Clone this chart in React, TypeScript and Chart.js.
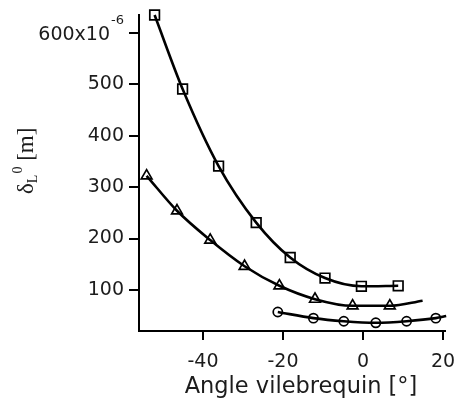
import React, { useEffect, useRef } from 'react';
import { Chart, registerables } from 'chart.js';

Chart.register(...registerables);

// Data (delta in units of 1e-6 m, angle in degrees)
const squareAngle = [-52.1, -45.1, -36.1, -26.7, -18.2, -9.5, -0.4, 8.8];
const squareDelta = [635, 491, 341, 231, 163, 123, 107, 108];

const triangleAngle = [-54.1, -46.5, -38.2, -29.6, -20.9, -12.0, -2.6, 6.7];
const triangleDelta = [322, 254, 197, 146, 108, 82, 69, 69];
const triangleFitEndAngle = [14.9];
const triangleFitEndDelta = [79];

const circleAngle = [-21.3, -12.4, -4.8, 3.2, 10.9, 18.2];
const circleDelta = [57, 45, 39, 36, 39, 45];
const circleFitEndAngle = [20.8];
const circleFitEndDelta = [49];

const xTicks = [-40, -20, 0, 20];
const yTicks = [100, 200, 300, 400, 500, 600];
const yExponent = '-6';
const xTitle = 'Angle vilebrequin [°]';
const yTitleSymbol = 'δ';
const yTitleSub = 'L';
const ySup = '0';
const yTitleUnit = ' [m]';

const toPts = (xs: number[], ys: number[]) => xs.map((x, i) => ({ x, y: ys[i] }));

const TEXT = '#1c1c1c';
const TICK_LEN_Y = 10;
const TICK_PAD_Y = 5;

const labelsPlugin = {
  id: 'customLabels',
  afterDraw(chart: any) {
    const ctx = chart.ctx as CanvasRenderingContext2D;
    const { left, bottom } = chart.chartArea;
    const ys = chart.scales.y;
    ctx.save();
    ctx.fillStyle = TEXT;

    // x title
    ctx.font = '22.5px "DejaVu Sans"';
    ctx.textAlign = 'center';
    ctx.textBaseline = 'alphabetic';
    ctx.fillText(xTitle, left + 162, bottom + 62);

    // top y tick label with exponent
    const topVal = yTicks[yTicks.length - 1];
    const py = ys.getPixelForValue(topVal);
    const rightEdge = left - TICK_LEN_Y - TICK_PAD_Y;
    ctx.textAlign = 'right';
    ctx.font = '13px "DejaVu Sans"';
    const expW = ctx.measureText(yExponent).width;
    ctx.fillText(yExponent, rightEdge, py - 9);
    ctx.font = '19px "DejaVu Sans"';
    ctx.fillText(String(topVal) + 'x10', rightEdge - expW - 1, py + 7);

    // y title (rotated)
    ctx.translate(33, 194);
    ctx.rotate(-Math.PI / 2);
    ctx.textAlign = 'left';
    let x = 0;
    ctx.font = '23px "Liberation Serif"';
    ctx.fillText(yTitleSymbol, x, 0);
    x += ctx.measureText(yTitleSymbol).width;
    ctx.font = '14px "Liberation Serif"';
    ctx.fillText(yTitleSub, x, 4);
    const subW = ctx.measureText(yTitleSub).width;
    ctx.fillText(ySup, x + subW + 1, -11);
    x += subW + 1 + ctx.measureText(ySup).width;
    ctx.font = '23px "Liberation Serif"';
    ctx.fillText(yTitleUnit, x, 0);
    ctx.restore();
  },
};

export default function App() {
  const ref = useRef<HTMLCanvasElement | null>(null);

  useEffect(() => {
    document.body.style.margin = '0';
    if (!ref.current) return;
    const lineCommon = {
      showLine: true,
      borderColor: '#000',
      borderWidth: 2.6,
      pointRadius: 0,
      cubicInterpolationMode: 'monotone' as const,
      fill: false,
      clip: false as const,
    };
    const markerCommon = {
      showLine: false,
      borderColor: '#000',
      backgroundColor: '#fff',
      borderWidth: 1.7,
      clip: false as const,
    };
    const chart = new Chart(ref.current, {
      type: 'scatter',
      data: {
        datasets: [
          { ...lineCommon, data: toPts(squareAngle, squareDelta) },
          {
            ...lineCommon,
            data: toPts(triangleAngle.concat(triangleFitEndAngle), triangleDelta.concat(triangleFitEndDelta)),
          },
          {
            ...lineCommon,
            data: toPts(circleAngle.concat(circleFitEndAngle), circleDelta.concat(circleFitEndDelta)),
          },
          { ...markerCommon, data: toPts(squareAngle, squareDelta), pointStyle: 'rect', pointRadius: 6.8 },
          { ...markerCommon, data: toPts(triangleAngle, triangleDelta), pointStyle: 'triangle', pointRadius: 6.2 },
          { ...markerCommon, data: toPts(circleAngle, circleDelta), pointStyle: 'circle', pointRadius: 4.6 },
        ],
      },
      options: {
        animation: false,
        responsive: true,
        maintainAspectRatio: false,
        layout: { padding: { left: 0, top: 15, right: 12, bottom: 0 } },
        plugins: { legend: { display: false }, tooltip: { enabled: false } },
        scales: {
          x: {
            type: 'linear',
            min: -56,
            max: 20.5,
            afterBuildTicks: (s: any) => {
              s.ticks = xTicks.map((v) => ({ value: v }));
            },
            afterFit: (s: any) => {
              s.height = 73;
              s.paddingLeft = 0;
              s.paddingRight = 0;
            },
            ticks: {
              color: TEXT,
              font: { family: 'DejaVu Sans', size: 19 },
              padding: 11,
              maxRotation: 0,
            },
            grid: {
              display: true,
              drawOnChartArea: false,
              drawTicks: true,
              tickLength: 9,
              color: '#000',
              lineWidth: 2,
            },
            border: { display: true, color: '#000', width: 2 },
          },
          y: {
            type: 'linear',
            min: 20,
            max: 635,
            afterBuildTicks: (s: any) => {
              s.ticks = yTicks.map((v) => ({ value: v }));
            },
            afterFit: (s: any) => {
              s.width = 139;
              s.paddingTop = 0;
              s.paddingBottom = 0;
            },
            ticks: {
              color: TEXT,
              font: { family: 'DejaVu Sans', size: 19 },
              padding: TICK_PAD_Y,
              callback: (v: any) => (v === yTicks[yTicks.length - 1] ? '' : String(v)),
            },
            grid: {
              display: true,
              drawOnChartArea: false,
              drawTicks: true,
              tickLength: TICK_LEN_Y,
              color: '#000',
              lineWidth: 2,
            },
            border: { display: true, color: '#000', width: 2 },
          },
        },
      },
      plugins: [labelsPlugin],
    });
    return () => chart.destroy();
  }, []);

  return (
    <div style={{ position: 'fixed', left: 0, top: 0, width: 457, height: 404, background: '#fff' }}>
      <canvas ref={ref} />
    </div>
  );
}
